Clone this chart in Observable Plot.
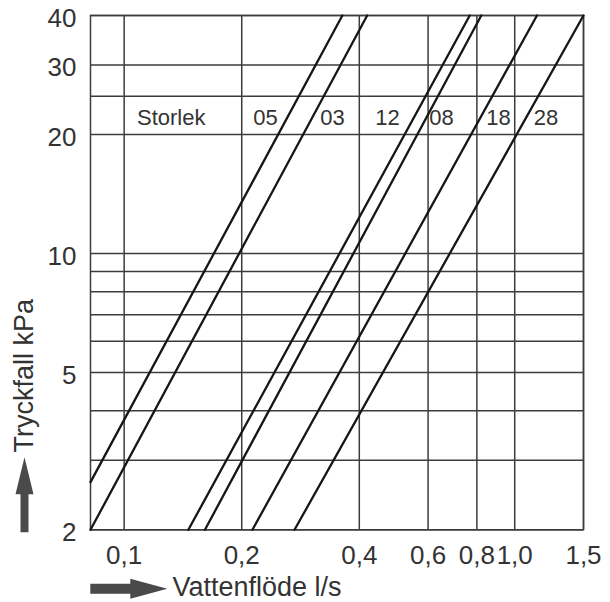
<!DOCTYPE html>
<html>
<head>
<meta charset="utf-8">
<script src="https://cdn.jsdelivr.net/npm/d3@7"></script>
<script src="https://cdn.jsdelivr.net/npm/@observablehq/plot@0.6"></script>
<style>
  html, body { margin: 0; padding: 0; background: #fff; }
  #chart { width: 610px; height: 602px; }
</style>
</head>
<body>
<div id="chart"></div>
<script>
// ---- data ----
const sizes      = ["05", "03", "12", "08", "18", "28"];
const flowStart  = [0.082, 0.082, 0.146, 0.161, 0.213, 0.273]; // l/s
const dropStart  = [2.64, 2, 2, 2, 2, 2];                       // kPa
const flowEnd    = [0.362, 0.419, 0.767, 0.821, 1.14, 1.5];     // l/s
const dropEnd    = [40, 40, 40, 40, 40, 40];                    // kPa

const labelText  = ["Storlek", "05", "03", "12", "08", "18", "28"];
const labelFlow  = [0.132, 0.230, 0.3415, 0.472, 0.649, 0.9085, 1.203];
const labelDrop  = [22, 22, 22, 22, 22, 22, 22];

const xGrid  = [0.1, 0.2, 0.4, 0.6, 0.8, 1.0, 1.5];
const xTicks = [0.1, 0.2, 0.4, 0.6, 0.8, 1.0, 1.5];
const yGrid  = [2, 3, 4, 5, 6, 7, 8, 9, 10, 20, 25, 30, 40];
const yTicks = [2, 5, 10, 20, 30, 40];

const xTitle = "Vattenflöde l/s";
const yTitle = "Tryckfall kPa";

// ---- tables built from the arrays ----
const lineData = sizes.flatMap((s, i) => [
  {size: s, flow: flowStart[i], drop: dropStart[i]},
  {size: s, flow: flowEnd[i], drop: dropEnd[i]}
]);
const labels = labelText.map((t, i) => ({text: t, flow: labelFlow[i], drop: labelDrop[i]}));

// block-arrow symbol (shape only)
function arrowSymbol(dir, len, headLen, headW, shaftW) {
  return {
    draw(ctx) {
      const L = len / 2, hb = L - headLen, hw = headW / 2, sw = shaftW / 2;
      const pts = [[-L, -sw], [hb, -sw], [hb, -hw], [L, 0], [hb, hw], [hb, sw], [-L, sw]];
      const P = dir === "up" ? pts.map(([a, b]) => [b, -a]) : pts;
      ctx.moveTo(P[0][0], P[0][1]);
      for (let k = 1; k < P.length; k++) ctx.lineTo(P[k][0], P[k][1]);
      ctx.closePath();
    }
  };
}

const gridColor = "#3c3c3c";
const textColor = "#333";
const fmt = d => d.toFixed(1).replace(".", ",");

const chart = Plot.plot({
  width: 610,
  height: 602,
  marginLeft: 90,
  marginRight: 27,
  marginTop: 15,
  marginBottom: 72.7,
  style: {fontFamily: "'Liberation Sans', Arial, Helvetica, sans-serif", color: textColor, background: "#fff"},
  x: {type: "log", domain: [0.082, 1.5], axis: null},
  y: {type: "log", domain: [2, 40], axis: null},
  marks: [
    Plot.ruleX(xGrid, {stroke: gridColor, strokeWidth: 1.5}),
    Plot.ruleY(yGrid, {stroke: gridColor, strokeWidth: 1.5}),
    Plot.frame({stroke: gridColor, strokeWidth: 1.5}),
    Plot.line(lineData, {x: "flow", y: "drop", z: "size", stroke: "#161616", strokeWidth: 2.3}),
    Plot.text(labels, {x: "flow", y: "drop", text: "text", fontSize: 22, fill: textColor}),
    // x tick labels
    Plot.text(xTicks, {x: d => d, frameAnchor: "bottom", lineAnchor: "top", dy: 16, text: fmt, fontSize: 26, fill: textColor}),
    // y tick labels
    Plot.text(yTicks, {y: d => d, frameAnchor: "left", textAnchor: "end", lineAnchor: "middle", dx: -14, dy: 3, text: d => String(d), fontSize: 26, fill: textColor}),
    // axis titles
    Plot.text([xTitle], {frameAnchor: "bottom-left", textAnchor: "start", lineAnchor: "middle", dx: 82, dy: 57.5, fontSize: 27, fill: textColor}),
    Plot.text([yTitle], {frameAnchor: "left", textAnchor: "middle", lineAnchor: "middle", rotate: -90, dx: -66, dy: 103, fontSize: 27, fill: textColor}),
    // block arrows beside the titles
    Plot.dot([xTitle], {frameAnchor: "bottom-left", dx: 38.3, dy: 59, r: 10,
      symbol: arrowSymbol("right", 77, 37, 20, 10), fill: "#4a4a4a", stroke: "none"}),
    Plot.dot([yTitle], {frameAnchor: "bottom-left", dx: -66, dy: -35, r: 10,
      symbol: arrowSymbol("up", 75, 37, 18, 8), fill: "#4a4a4a", stroke: "none"})
  ]
});
document.getElementById("chart").append(chart);
</script>
</body>
</html>
